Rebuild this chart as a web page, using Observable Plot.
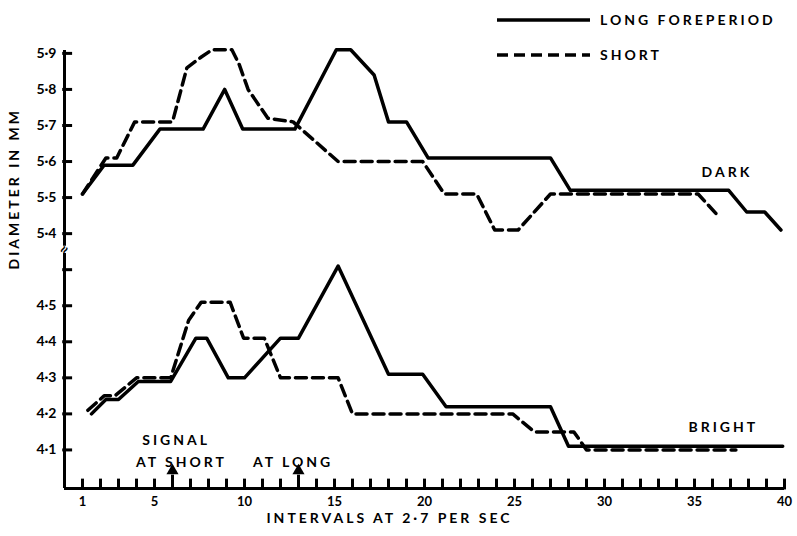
<!DOCTYPE html>
<html><head><meta charset="utf-8">
<script src="https://cdn.jsdelivr.net/npm/d3@7"></script>
<script src="https://cdn.jsdelivr.net/npm/@observablehq/plot@0.6"></script>
<style>
body{margin:0;background:#fff;}
#wrap{position:relative;width:797px;height:536px;}
#wrap svg text{font-family:Lato,"Open Sans",sans-serif;font-weight:700;}
.ls3 text{letter-spacing:3px;}
</style></head><body><div id="wrap"></div>
<script>
// ---- data ----
const darkLongX  = [1, 2.2, 3.8, 5.3, 7.7, 8.9, 9.9, 12.8, 15.1, 15.9, 17.2, 18, 19, 20.2, 27, 28.1, 36.9, 37.9, 38.9, 39.8];
const darkLongY  = [5.51, 5.59, 5.59, 5.69, 5.69, 5.80, 5.69, 5.69, 5.91, 5.91, 5.84, 5.71, 5.71, 5.61, 5.61, 5.52, 5.52, 5.46, 5.46, 5.41];
const darkShortX = [1, 2.3, 2.9, 3.9, 6, 6.8, 7.6, 8.2, 9.3, 9.7, 10.2, 11.3, 12.7, 15.2, 19.9, 21.1, 22.9, 23.9, 25.2, 27, 35.2, 36.3];
const darkShortY = [5.51, 5.61, 5.61, 5.71, 5.71, 5.86, 5.89, 5.91, 5.91, 5.87, 5.80, 5.72, 5.71, 5.60, 5.60, 5.51, 5.51, 5.41, 5.41, 5.51, 5.51, 5.45];
const brightLongX  = [1.5, 2.3, 3, 4.1, 5.9, 7.3, 7.9, 9.1, 10, 12, 13, 15.2, 18, 19.9, 21.2, 27, 28, 39.9];
const brightLongY  = [4.20, 4.24, 4.24, 4.29, 4.29, 4.41, 4.41, 4.30, 4.30, 4.41, 4.41, 4.61, 4.31, 4.31, 4.22, 4.22, 4.11, 4.11];
const brightShortX = [1.3, 2.2, 2.8, 4, 5.9, 6.9, 7.6, 9.2, 9.95, 11.1, 12, 15.2, 16, 24.9, 26.1, 28.3, 29, 37.3];
const brightShortY = [4.21, 4.25, 4.25, 4.30, 4.30, 4.46, 4.51, 4.51, 4.41, 4.41, 4.30, 4.30, 4.20, 4.20, 4.15, 4.15, 4.10, 4.10];

const xTickLabels = [1, 5, 10, 15, 20, 25, 30, 35, 40];
const xMinorTicks = [1,2,3,4,5,6,7,8,9,10,11,12,13,14,15,16,17,18,19,20,21,22,23,24,25,26,27,28,29,30,31,32,33,34,35,36,37,38,39,40];
const yTicksDark = [5.4, 5.5, 5.6, 5.7, 5.8, 5.9];
const yTicksBright = [4.1, 4.2, 4.3, 4.4, 4.5];
const yTicksBrightExtra = [4.6];
const legendLabels = ["LONG FOREPERIOD", "SHORT"];
const signalX = [6, 13];
const signalLabels = ["AT SHORT", "AT LONG"];
const xLabel = "INTERVALS AT 2\u00B77 PER SEC";
const yLabel = "DIAMETER IN MM";

// broken axis: the dark panel is drawn 0.7 lower (5.4 sits where 4.7 would be)
const BREAK_OFFSET = 0.7;
const yv = (v, panel) => panel === "dark" ? v - BREAK_OFFSET : v;
const rows = (xs, ys, panel) => xs.map((x, i) => ({x, v: ys[i], y: yv(ys[i], panel)}));
const fmt = v => d3.format(".1f")(v).replace(".", "\u00B7");

const dL = rows(darkLongX, darkLongY, "dark");
const dS = rows(darkShortX, darkShortY, "dark");
const bL = rows(brightLongX, brightLongY, "bright");
const bS = rows(brightShortX, brightShortY, "bright");

const yLabelTicks = [...yTicksBright, ...yTicksDark.map(v => yv(v, "dark"))];
const yAllTicks = [...yLabelTicks, ...yTicksBrightExtra];
const tickName = new Map([...yTicksBright.map(v => [v, fmt(v)]), ...yTicksDark.map(v => [yv(v, "dark"), fmt(v)])]);

const Y0 = 3.993;
const dash = "11,6";
const W = 797, H = 536, ML = 64, MR = 13, MT = 50, MB = 48;

const chart = Plot.plot({
  width: W, height: H,
  marginLeft: ML, marginRight: MR, marginTop: MT, marginBottom: MB,
  x: {domain: [0, 40]},
  y: {domain: [Y0, 5.208]},
  style: {background: "#fff", color: "#000", fontSize: "13px"},
  marks: [
    // axis lines
    Plot.ruleY([Y0], {strokeWidth: 3}),
    Plot.ruleX([0], {y1: Y0, y2: 4.645, strokeWidth: 3}),
    Plot.ruleX([0], {y1: 4.665, y2: 5.208, strokeWidth: 3}),
    Plot.text(["\u2248"], {x: 0, y: 4.655, fontSize: 16, rotate: -60}),
    // inward ticks
    Plot.ruleX(xMinorTicks, {x: d => d, y1: Y0 - 0.004, y2: Y0 + 0.026, strokeWidth: 3}),
    Plot.ruleY(yAllTicks, {y: d => d, x1: -0.1, x2: 0.45, strokeWidth: 3}),
    // tick labels
    Plot.axisX({ticks: xTickLabels, tickSize: 0, tickPadding: 8, fontSize: 13, label: null}),
    Plot.axisY({ticks: yLabelTicks, tickSize: 0, tickPadding: 8, fontSize: 14, tickFormat: d => tickName.get(d) ?? "", label: null}),
    // series
    Plot.line(dL, {x: "x", y: "y", strokeWidth: 3.5}),
    Plot.line(dS, {x: "x", y: "y", strokeWidth: 3.5, strokeDasharray: dash}),
    Plot.line(bL, {x: "x", y: "y", strokeWidth: 3.5}),
    Plot.line(bS, {x: "x", y: "y", strokeWidth: 3.5, strokeDasharray: dash}),
    // annotations
    Plot.text(["DARK"], {x: 36.8, y: yv(5.57, "dark"), fontSize: 14, className: "ls3"}),
    Plot.text(["BRIGHT"], {x: 36.6, y: 4.162, fontSize: 14, className: "ls3"}),
    Plot.text(["SIGNAL"], {x: 6.2, y: 4.126, fontSize: 14, className: "ls3"}),
    Plot.text(signalLabels, {x: [6.5, 12.7], y: 4.065, fontSize: 14, className: "ls3"}),
    Plot.ruleX(signalX, {x: d => d, y1: Y0, y2: 4.03, strokeWidth: 3}),
    Plot.dot(signalX, {x: d => d, y: 4.042, symbol: "triangle", r: 4.5, fill: "#000", stroke: null}),
    // axis titles
    Plot.text([xLabel], {frameAnchor: "bottom", dx: -35, dy: 34, fontSize: 14, className: "ls3"}),
    Plot.text([yLabel], {frameAnchor: "left", dx: -50, rotate: -90, fontSize: 14, className: "ls3"})
  ]
});
const wrap = document.getElementById("wrap");
wrap.appendChild(chart);

// legend overlay
const lg = d3.select(wrap).append("svg")
  .attr("width", 320).attr("height", 70)
  .style("position", "absolute").style("left", "490px").style("top", "0px");
legendLabels.forEach((lab, i) => {
  const y = 20 + i * 35;
  lg.append("line").attr("x1", 7).attr("x2", 100).attr("y1", y).attr("y2", y)
    .attr("stroke", "#000").attr("stroke-width", 3.5)
    .attr("stroke-dasharray", i === 1 ? dash : null);
  lg.append("text").attr("x", 110).attr("y", y).attr("dy", "0.36em")
    .attr("font-size", 14).attr("letter-spacing", "3px").attr("fill", "#000").text(lab);
});
</script>
</body></html>
